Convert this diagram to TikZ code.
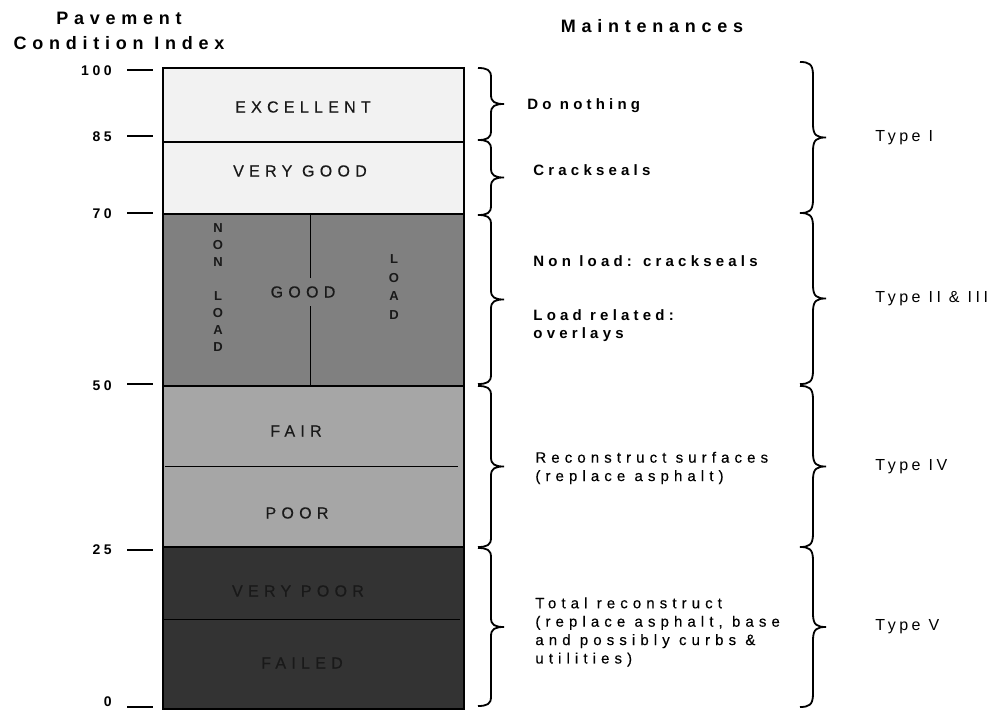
\documentclass[tikz,border=0pt]{standalone}
\usepackage{fontspec}
\setmainfont{Liberation Sans}
\usepackage{tikz}
\usetikzlibrary{positioning}
\definecolor{pcilight}{RGB}{242,242,242}
\definecolor{pcigood}{RGB}{128,128,128}
\definecolor{pcifair}{RGB}{166,166,166}
\definecolor{pcibad}{RGB}{51,51,51}
% curly brace: x, top, bottom, curl length, name of tip
\newcommand{\pcibrace}[5]{%
  \draw[brc] (#1,#2) .. controls ({#1+9},#2) and ({#1+13},{#2+2}) .. ({#1+13},{#2+#4})
    -- ({#1+13},{(#2+#3)/2-#4}) .. controls ({#1+13},{(#2+#3)/2-2}) and ({#1+17},{(#2+#3)/2}) .. ({#1+26},{(#2+#3)/2})
    coordinate (#5)
    .. controls ({#1+17},{(#2+#3)/2}) and ({#1+13},{(#2+#3)/2+2}) .. ({#1+13},{(#2+#3)/2+#4})
    -- ({#1+13},{#3-#4}) .. controls ({#1+13},{#3-2}) and ({#1+9},#3) .. (#1,#3);}

\begin{document}
\begin{tikzpicture}[x=0.5pt, y=-0.5pt,
    band/.style={inner sep=0pt, text=black!90,
      font=\fontsize{8}{9.6}\selectfont\addfontfeatures{LetterSpace=33, FakeBold=0.4}},
    sub/.style={inner sep=0pt, align=center, text=black!90,
      font=\bfseries\fontsize{6.5}{8.5}\selectfont},
    head/.style={inner sep=0pt, align=center,
      font=\bfseries\fontsize{9}{12.5}\selectfont\addfontfeatures{LetterSpace=32}},
    num/.style={inner sep=0pt, anchor=east,
      font=\bfseries\fontsize{7}{8}\selectfont\addfontfeatures{LetterSpace=25}},
    mnt/.style={inner sep=0pt, anchor=west, align=left,
      font=\fontsize{7.5}{9.2}\selectfont\addfontfeatures{LetterSpace=34, FakeBold=0.3}},
    mntb/.style={mnt,
      font=\bfseries\fontsize{7.5}{9}\selectfont\addfontfeatures{LetterSpace=28}},
    typ/.style={inner sep=0pt, anchor=west,
      font=\fontsize{8}{9.6}\selectfont\addfontfeatures{LetterSpace=22}},
    pcitick/.style={line width=1pt},
    brc/.style={line width=0.9pt}
  ]
  \useasboundingbox (0,0) rectangle (993,711);

  % headings
  \node[head] (pci) at (119,31) {Pavement\\Condition Index};
  \node[head] (maint) at (652,26) {Maintenances};

  % scale
  \foreach \v/\y/\ly in {100/70/71, 85/136/137, 70/213/214, 50/384/386, 25/550/550, 0/707/702} {
    \draw[pcitick] (127,\y) -- (153,\y);
    \node[num] (n\v) at (112,\ly) {\v};
  }

  % condition bar
  \fill[pcilight] (163,68) rectangle (464,214);
  \fill[pcigood] (163,214) rectangle (464,386);
  \fill[pcifair] (163,386) rectangle (464,547);
  \fill[pcibad] (163,547) rectangle (464,709);
  \draw[line width=0.7pt] (163,68) rectangle (464,709);
  \foreach \y in {142,214,386,547}
    \draw[line width=0.7pt] (163,\y) -- (464,\y);
  \draw (165,466) -- (458,466);
  \draw (163,619) -- (460,619);
  \draw (310,214) -- (310,386);

  \node[band] (exc) at (303,107) {EXCELLENT};
  \node[band] (vgood) at (300,171) {VERY GOOD};
  \node[band, fill=pcigood, inner ysep=4.3pt] (good) at (303,292) {GOOD};
  \node[sub] (nonload) at (218,288) {N\\O\\N\\[8.5pt]L\\O\\A\\D};
  \node[sub, font=\bfseries\fontsize{6.5}{9.2}\selectfont] (load) at (394,287) {L\\O\\A\\D};
  \node[band] (fair) at (296,431) {FAIR};
  \node[band] (poor) at (297,513) {POOR};
  \node[band] (vpoor) at (298,591) {VERY POOR};
  \node[band] (failed) at (302,663) {FAILED};

  % maintenance braces
  \pcibrace{478}{68}{140}{9}{m1}
  \pcibrace{478}{140}{215}{9}{m2}
  \pcibrace{478}{215}{384}{9}{m3}
  \pcibrace{478}{386}{547}{9}{m4}
  \pcibrace{478}{548}{706}{9}{m5}

  \node[mntb, right=11.5pt of m1, yshift=-1pt] (nothing) {Do nothing};
  \node[mntb] (seal) at (533,170) {Crackseals};
  \node[mntb] (nonseal) at (533,261) {Non load: crackseals};
  \node[mntb] (overlay) at (533,326) {Load related:\\overlays};
  \node[mnt] (surf) at (535,468) {Reconstruct surfaces\\(replace asphalt)};
  \node[mnt] (total) at (535,632) {Total reconstruct\\(replace asphalt, base\\and possibly curbs \&\\utilities)};

  % type braces
  \pcibrace{800}{62}{213}{13}{r1}
  \pcibrace{800}{213}{384}{13}{r2}
  \pcibrace{800}{386}{547}{13}{r3}
  \pcibrace{800}{547}{707}{13}{r4}

  \node[typ, right=24.5pt of r1] (t1) {Type I};
  \node[typ, right=24.5pt of r2] (t2) {Type II \& III};
  \node[typ, right=24.5pt of r3] (t3) {Type IV};
  \node[typ, right=24.5pt of r4] (t4) {Type V};
\end{tikzpicture}
\end{document}
